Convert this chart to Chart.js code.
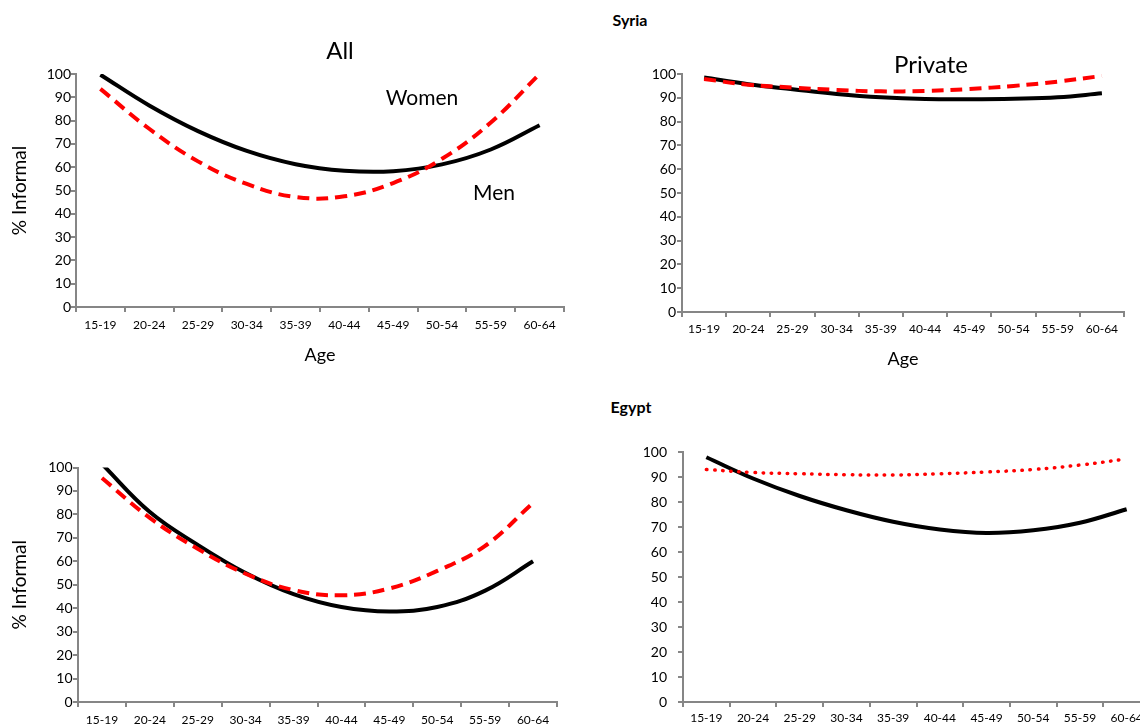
<!DOCTYPE html>
<html>
<head>
<meta charset="utf-8">
<script src="https://cdn.jsdelivr.net/npm/chart.js@4.4.1/dist/chart.umd.min.js"></script>
<style>
  html, body { margin: 0; padding: 0; background: #fff; }
  body { width: 1140px; height: 725px; overflow: hidden; position: relative; font-family: Lato, "Open Sans", sans-serif; }
  .box { position: absolute; }
  .box canvas { display: block; }
  .lbl { position: absolute; transform: translate(-50%, -50%); line-height: 1; white-space: nowrap; color: #000; z-index: 5; }
</style>
</head>
<body>
<div class="box" id="b1"><canvas id="c1"></canvas></div>
<div class="box" id="b2"><canvas id="c2"></canvas></div>
<div class="box" id="b3"><canvas id="c3"></canvas></div>
<div class="box" id="b4"><canvas id="c4"></canvas></div>

<div class="lbl" style="left:630px;top:20px;font-size:16px;font-weight:bold;">Syria</div>
<div class="lbl" style="left:340px;top:50px;font-size:24px;">All</div>
<div class="lbl" style="left:422px;top:96px;font-size:21px;">Women</div>
<div class="lbl" style="left:494px;top:191px;font-size:21px;">Men</div>
<div class="lbl" style="left:931px;top:64px;font-size:24px;">Private</div>
<div class="lbl" style="left:631px;top:407px;font-size:16px;font-weight:bold;">Egypt</div>

<script>
// ---- data ----
const ageGroups = ['15-19','20-24','25-29','30-34','35-39','40-44','45-49','50-54','55-59','60-64'];
const syriaAllMen       = [99.7, 86.5, 75.5, 67.0, 61.3, 58.5, 58.3, 61.2, 67.6, 78.0];
const syriaAllWomen     = [93.6, 76.5, 62.5, 52.8, 47.2, 47.5, 53.2, 63.6, 79.2, 100.0];
const syriaPrivateMen   = [98.5, 95.7, 93.6, 91.6, 90.2, 89.5, 89.4, 89.6, 90.2, 91.9];
const syriaPrivateWomen = [97.9, 95.5, 94.3, 93.3, 92.7, 92.9, 93.7, 95.0, 96.8, 99.2];
const egyptAllMen       = [101.5, 81.0, 67.0, 55.0, 46.0, 40.5, 38.6, 40.5, 47.5, 60.0];
const egyptAllWomen     = [95.5, 78.5, 65.3, 54.7, 47.7, 45.5, 48.4, 55.9, 66.6, 84.9];
const egyptPrivateMen   = [97.9, 89.4, 82.4, 76.7, 72.1, 69.0, 67.6, 68.7, 71.7, 77.1];
const egyptPrivateWomen = [93.0, 91.8, 91.3, 90.9, 90.8, 91.3, 92.0, 93.0, 94.8, 97.2];
const yMin = 0, yMax = 100, yStep = 10;
const yTitle = '% Informal';
const xTitle = 'Age';

Chart.defaults.font.family = 'Lato, "Open Sans", sans-serif';
Chart.defaults.color = '#000';

const AXIS = '#868686';

function make(o) {
  const box = document.getElementById(o.box);
  box.style.left = o.left + 'px';
  box.style.top = o.top + 'px';
  box.style.width = o.width + 'px';
  box.style.height = o.height + 'px';
  const cv = document.getElementById(o.canvas);
  cv.width = o.width; cv.height = o.height;
  cv.style.width = o.width + 'px'; cv.style.height = o.height + 'px';

  const womenDs = {
    label: 'Women', data: o.women, borderColor: '#ff0000', borderWidth: o.dotted ? 3.5 : 4,
    borderDash: o.dotted ? [0.5, 7.6] : [12, 7], borderCapStyle: o.dotted ? 'round' : 'butt',
    pointRadius: 0, tension: 0.4, fill: false
  };
  const menDs = {
    label: 'Men', data: o.men, borderColor: '#000', borderWidth: 4,
    pointRadius: 0, tension: 0.4, fill: false
  };

  new Chart(cv, {
    type: 'line',
    data: { labels: ageGroups, datasets: [womenDs, menDs] },
    options: {
      responsive: false, animation: false, devicePixelRatio: 1,
      layout: { padding: { top: o.padTop, right: o.padRight, bottom: 0, left: 0 } },
      plugins: { legend: { display: false }, tooltip: { enabled: false } },
      scales: {
        x: {
          type: 'category', offset: true,
          grid: { offset: true, drawOnChartArea: false, drawTicks: true, tickLength: 5, color: AXIS, lineWidth: 2 },
          border: { display: true, color: AXIS, width: 2 },
          ticks: { font: { size: 12 }, padding: o.xPad, maxRotation: 0, autoSkip: false, color: '#000' },
          title: { display: !!o.showAge, text: xTitle, font: { size: 18 }, padding: 0, color: '#000' },
          afterFit: s => { s.height = o.hx; }
        },
        y: {
          min: yMin, max: yMax,
          grid: { drawOnChartArea: false, drawTicks: true, tickLength: 5, color: AXIS, lineWidth: 2 },
          border: { display: true, color: AXIS, width: 2 },
          ticks: { stepSize: yStep, font: { size: 14 }, padding: o.yPad, color: '#000' },
          title: { display: !!o.showY, text: yTitle, font: { size: 19 }, padding: { top: 8.6, bottom: 0 }, color: '#000' },
          afterFit: s => { s.width = o.wy; }
        }
      }
    }
  });
}

make({ box: 'b1', canvas: 'c1', left: 0, top: 60, width: 570, height: 306, padTop: 14, padRight: 6,
  hx: 59, wy: 76, xPad: 6, yPad: 0, showAge: true, showY: true,
  men: syriaAllMen, women: syriaAllWomen });
make({ box: 'b2', canvas: 'c2', left: 600, top: 60, width: 530, height: 310, padTop: 14, padRight: 6,
  hx: 58, wy: 82, xPad: 5, yPad: 1, showAge: true, showY: false,
  men: syriaPrivateMen, women: syriaPrivateWomen });
make({ box: 'b3', canvas: 'c3', left: 0, top: 440, width: 563, height: 302, padTop: 27.5, padRight: 6,
  hx: 40, wy: 78, xPad: 6, yPad: 0.5, showAge: false, showY: true,
  men: egyptAllMen, women: egyptAllWomen });
make({ box: 'b4', canvas: 'c4', left: 600, top: 430, width: 550, height: 312, padTop: 22, padRight: 0,
  hx: 40, wy: 83, xPad: 3.5, yPad: 11, showAge: false, showY: false, dotted: true,
  men: egyptPrivateMen, women: egyptPrivateWomen });
</script>
</body>
</html>
